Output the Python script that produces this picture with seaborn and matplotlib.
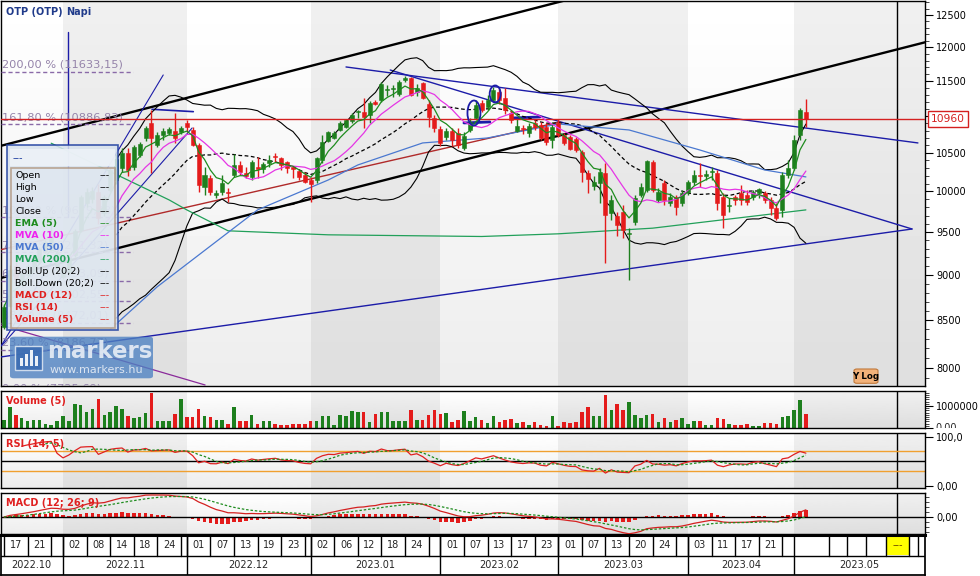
import numpy as np
import pandas as pd
import matplotlib
matplotlib.use("Agg")
import matplotlib.pyplot as plt
import matplotlib.transforms as mtransforms
from matplotlib.patches import Rectangle, FancyBboxPatch, Ellipse
from matplotlib.ticker import FixedLocator, FixedFormatter, NullFormatter
import seaborn as sns

sns.set_theme(style="white")
plt.rcParams['font.family'] = ['DejaVu Sans']

# ---------------- data ----------------
holidays = ["2022-10-31", "2022-11-01", "2022-12-26", "2023-03-15",
            "2023-04-07", "2023-04-10", "2023-05-01"]

opens = [8430, 8650, 9100, 8900, 9000, 9080, 9150, 9280, 9300, 9100,
         8980, 9036, 9230, 9527, 9850, 9900, 9994, 9733, 10019, 10150, 10302, 10500, 10315, 10473, 10700,
         10905, 10606, 10741, 10768, 10795, 10781,
         10905, 10809, 10606, 10057, 10173, 9956, 9994, 9994, 10211, 10341, 10237, 10186, 10315, 10289,
         10368, 10460, 10433, 10381, 10315, 10263, 10211,
         10147, 10147, 10407, 10660, 10700, 10809, 10850, 10932, 11057, 11057, 11016, 11198, 11226, 11370,
         11384, 11312, 11514, 11543, 11341, 11470, 11170, 10974,
         10823, 10714, 10795, 10768, 10566, 10809, 10974, 11184, 11128, 11226, 11341, 11255, 11043, 10800,
         10836, 10768, 10905, 10877, 10850, 10673,
         10905, 10741, 10714, 10687, 10513, 10237, 10070, 10108, 10237, 9733, 9696, 9745, 9479, 9623,
         9956, 10019, 10381, 9894, 10108, 9856, 9931, 9856,
         9994, 10121, 10211, 10198, 10250, 10237, 9931, 9819, 9931, 9981, 9956, 9931, 9981, 9981,
         9894, 9794, 9770, 10211,
         10302, 10741, 11057]
highs = [8670, 9110, 9150, 9050, 9120, 9200, 9320, 9400, 9680, 9250,
         9100, 9240, 9540, 9960, 10050, 10060, 10100, 9960, 10300, 10480, 10560, 10560, 10600, 10650, 10870,
         11085, 10780, 10836, 10850, 11043, 10860,
         10946, 10850, 10630, 10315, 10211, 10019, 10211, 10045, 10487, 10394, 10315, 10407, 10447, 10381,
         10473, 10500, 10447, 10394, 10330, 10280, 10250,
         10186, 10447, 10741, 10800, 10800, 10930, 10960, 11040, 11085, 11255, 11212, 11230, 11480, 11442,
         11442, 11514, 11572, 11557, 11456, 11485, 11226, 11016,
         10864, 10836, 10836, 10836, 10781, 10974, 11226, 11226, 11298, 11413, 11398, 11398, 11085, 10960,
         10877, 10905, 10946, 10919, 10905, 10919,
         10960, 10768, 10741, 10714, 10539, 10276, 10198, 10302, 10368, 9956, 9745, 9831, 9551, 9956,
         10108, 10407, 10407, 10044, 10147, 9981, 9956, 10019,
         10147, 10276, 10368, 10276, 10315, 10276, 9981, 9919, 9956, 10083, 10019, 10019, 10045, 10007,
         9931, 9856, 10250, 10407,
         10741, 11114, 11241]
lows = [8400, 8640, 8900, 8860, 8980, 9050, 9120, 9250, 9280, 9050,
        8950, 9000, 9200, 9500, 9800, 9850, 9600, 9700, 9990, 10100, 10250, 10200, 10280, 10440, 10660,
        10237, 10580, 10673, 10740, 10633, 10760,
        10781, 10590, 9994, 9956, 9956, 9919, 9956, 9869, 10186, 10211, 10173, 10147, 10173, 10237,
        10315, 10381, 10276, 10237, 10173, 10147, 10108,
        9869, 10108, 10368, 10640, 10680, 10790, 10830, 10910, 10974, 10836, 10905, 11150, 11200, 11284,
        11270, 11284, 11485, 11284, 11284, 11241, 10850, 10781,
        10593, 10673, 10593, 10566, 10539, 10781, 10946, 11057, 11085, 11198, 11170, 11030, 10905, 10780,
        10754, 10714, 10809, 10673, 10606, 10566,
        10714, 10606, 10539, 10513, 10121, 9981, 10019, 9856, 9139, 9647, 9455, 9431, 8945, 9587,
        9931, 9994, 9994, 9869, 9831, 9819, 9708, 9819,
        9956, 10083, 10057, 10147, 10147, 9770, 9551, 9745, 9831, 9831, 9831, 9894, 9919, 9856,
        9708, 9647, 9684, 10173,
        10276, 10673, 10850]
closes = [8646, 9060, 8950, 9020, 9100, 9180, 9300, 9380, 9450, 9200,
          9060, 9208, 9510, 9931, 9990, 10010, 9672, 9931, 10276, 10420, 10500, 10276, 10579, 10620, 10836,
          10700, 10741, 10795, 10823, 10700, 10836,
          10850, 10606, 10083, 10211, 9994, 9981, 10108, 9981, 10341, 10250, 10198, 10381, 10289, 10355,
          10407, 10447, 10341, 10302, 10289, 10186, 10121,
          10096, 10433, 10646, 10781, 10768, 10905, 10946, 11016, 11071, 10988, 11184, 11170, 11456, 11384,
          11398, 11485, 11543, 11298, 11398, 11255, 10988, 10836,
          10633, 10795, 10673, 10606, 10727, 10919, 11156, 11085, 11226, 11370, 11226, 11085, 10946, 10870,
          10823, 10864, 10850, 10700, 10646, 10850,
          10741, 10633, 10553, 10539, 10250, 10160, 10120, 10250, 9708, 9894, 9587, 9527, 9491, 9919,
          10057, 10394, 10019, 9994, 9894, 9931, 9807, 9981,
          10121, 10211, 10198, 10224, 10263, 9856, 9708, 9831, 9894, 9894, 9869, 9994, 10032, 9894,
          9794, 9672, 10211, 10302,
          10673, 11085, 10960]
volumes_k = [377, 941, 605, 455, 305, 350, 377, 182, 123, 332,
             559, 332, 1105, 1032, 727, 877, 1332, 605, 714, 1014, 877, 559, 455, 486, 682,
             1605, 305, 305, 332, 650, 1332,
             500, 500, 877, 559, 500, 364, 364, 182, 941, 332, 332, 605, 182, 305,
             305, 182, 150, 123, 182, 182, 182,
             305, 305, 559, 559, 150, 605, 532, 786, 714, 714, 259, 650, 714, 714,
             305, 305, 305, 832, 377, 377, 605, 832,
             650, 695, 259, 377, 786, 332, 500, 377, 214, 532, 273, 350, 423, 227,
             273, 150, 259, 150, 105, 559,
             105, 259, 227, 259, 714, 968, 532, 532, 1514, 805, 1105, 805, 1168, 605,
             455, 605, 650, 259, 441, 259, 350, 441,
             195, 332, 305, 150, 150, 441, 395, 195, 123, 123, 195, 105, 77, 214,
             227, 195, 486, 559,
             805, 1286, 650]

# slow averages need history before the window
mva50_days = [18, 26, 43, 55, 60, 71, 82, 94, 106, 118, 129, 136]
mva50_vals = [8400, 8866, 9770, 10147, 10341, 10633, 10700, 10891, 10809, 10539, 10276, 10186]
mva200_days = [8, 28, 31, 38, 55, 81, 94, 110, 136]
mva200_vals = [10629, 9894, 9770, 9515, 9467, 9447, 9479, 9547, 9770]

fib_pcts = ["200,00", "161,80", "100,00", "78,60", "61,80", "50,00", "38,20", "23,60", "0,00"]
fib_levels = [11633.15, 10886.83, 9679.43, 9261.32, 8933.09, 8702.55, 8472.01, 8186.77, 7725.69]
last_price = 10960

# drawn trend lines: (day index, price) pairs
channel_up = [(-0.6, 10593), (55.3, 11794)]
channel_dn = [(50.2, 9872), (131.6, 11524)]
tri_top = [(58.0, 11705), (155.0, 10633)]
tri_mid = [(65.5, 11660), (154.0, 9537)]
tri_low = [(-0.6, 8112), (154.0, 9537)]
fan_1 = [(-0.6, 8215), (27.0, 11587)]
fan_2 = [(-0.3, 8236), (31.9, 10836)]
peak_line = [(25.1, 11095), (32.1, 11062)]
support_red = [(-0.6, 9290), (94.3, 10919)]
purple_line = [(-0.6, 8447), (34.1, 7830)]
fib_anchor = [(10.9, 9679), (10.9, 12232)]
neck_lines = [[(78.0, 10905), (82.4, 10919)], [(86.3, 10974), (90.9, 10988)]]
shoulder_marks = [(79.7, 11043, 13, 25), (83.3, 11312, 11, 17)]

GREEN = "#1d7f1d"
RED = "#e41b1b"
NAVY = "#1c1ca8"
W, H = 980, 576

days = pd.bdate_range("2022-10-17", "2023-05-04")
days = days[~days.isin(pd.to_datetime(holidays))]
n = len(days)
idx = np.arange(n)

# ---------------- indicators ----------------
cl = pd.Series(closes, dtype=float)
ema5 = cl.ewm(span=5, adjust=False).mean()
mva10 = cl.rolling(10).mean()
mid20 = cl.rolling(20).mean()
sd20 = cl.rolling(20).std(ddof=0)
boll_up, boll_dn = mid20 + 2 * sd20, mid20 - 2 * sd20

delta = cl.diff()
avg_g = delta.clip(lower=0).ewm(alpha=1 / 14, min_periods=3).mean()
avg_l = (-delta).clip(lower=0).ewm(alpha=1 / 14, min_periods=3).mean()
rsi = 100 - 100 / (1 + avg_g / avg_l)
rsi_sig = rsi.rolling(5).mean()

macd = cl.ewm(span=12, adjust=False).mean() - cl.ewm(span=26, adjust=False).mean()
macd_sig = macd.ewm(span=9, adjust=False).mean()
macd_hist = macd - macd_sig

# ---------------- figure layout ----------------
fig = plt.figure(figsize=(W / 100, H / 100), dpi=100)
fig.patch.set_facecolor("white")
PX_L, PX_R = 0.5, 925.0
XLIM = (-0.6, 156.2)


def box(top, bottom):
    return [PX_L / W, 1 - bottom / H, (PX_R - PX_L) / W, (bottom - top) / H]


panels = [(0.5, 386), (391, 428), (433, 488), (493, 534)]
bg = fig.add_axes([0, 0, 1, 1], zorder=-1)
grad = np.linspace(1.0, 0.93, 64).reshape(-1, 1)
for top, bottom in panels:
    bg.imshow(grad, extent=[PX_L, PX_R, bottom, top], cmap="gray", vmin=0, vmax=1,
              aspect="auto", interpolation="bilinear")
bg.set_xlim(0, W)
bg.set_ylim(H, 0)
bg.axis("off")

ax = fig.add_axes(box(*panels[0]))
ax_vol = fig.add_axes(box(*panels[1]))
ax_rsi = fig.add_axes(box(*panels[2]))
ax_macd = fig.add_axes(box(*panels[3]))
ax_date = fig.add_axes([PX_L / W, 1 - 575 / H, (PX_R - PX_L) / W, (575 - 534.5) / H])

month_key = days.strftime("%Y.%m")
month_starts = [i for i in range(n) if i == 0 or month_key[i] != month_key[i - 1]]
month_names = [month_key[i] for i in month_starts]
edges = [XLIM[0]] + month_starts[1:] + [XLIM[1]]

for a in (ax, ax_vol, ax_rsi, ax_macd):
    a.set_facecolor("none")
    for k in range(1, len(edges) - 1, 2):
        a.axvspan(edges[k], edges[k + 1], color="black", alpha=0.06, lw=0, zorder=0)
    a.axvline(151.5, color="black", lw=1, zorder=2)
    for s in a.spines.values():
        s.set_color("black")
        s.set_linewidth(1)
    a.yaxis.tick_right()
    a.tick_params(axis="y", which="major", length=6, width=0.8, labelsize=7, pad=2,
                  right=True, left=False, labelright=True, labelleft=False, colors="black")
    a.tick_params(axis="y", which="minor", length=3, width=0.6, right=True, left=False)
    a.tick_params(axis="x", bottom=False, labelbottom=False)

# ---------------- price panel ----------------
o, h, l, c = (np.array(v, float) for v in (opens, highs, lows, closes))
rising = c >= o
cc = np.where(rising, GREEN, RED)
ax.vlines(idx, l, h, colors=cc, lw=1, zorder=5)
lo, hi = np.minimum(o, c), np.maximum(o, c)
ax.bar(idx, np.maximum(hi - lo, 6), bottom=lo, width=0.68, color=cc, edgecolor=cc, lw=0.4, zorder=6)

ax.plot(idx, boll_up, color="black", lw=0.8, zorder=4)
ax.plot(idx, boll_dn, color="black", lw=0.8, zorder=4)
ax.plot(idx, mid20, color="black", lw=0.9, ls=(0, (3, 2)), zorder=4)
ax.plot(mva200_days, mva200_vals, color="#22a05a", lw=0.9, zorder=4)
ax.plot(mva50_days, mva50_vals, color="#4a78d0", lw=0.9, zorder=4)
ax.plot(idx, mva10, color="#e535e5", lw=0.9, zorder=7)
ax.plot(idx, ema5, color="#1e8c1e", lw=0.9, zorder=7)

ax.axline(*channel_up, color="black", lw=1.7, zorder=3)
ax.axline(*channel_dn, color="black", lw=1.7, zorder=3)
for seg, lw in [(tri_top, 1.0), (tri_mid, 1.0), (tri_low, 1.0), (fan_1, 0.8),
                (fan_2, 0.8), (peak_line, 1.2), (fib_anchor, 1.0)] + [(s, 2.0) for s in neck_lines]:
    xs, ys = zip(*seg)
    ax.plot(xs, ys, color=NAVY, lw=lw, zorder=3)
xs, ys = zip(*support_red)
ax.plot(xs, ys, color="#b02a2a", lw=1.0, zorder=3)
xs, ys = zip(*purple_line)
ax.plot(xs, ys, color="#8a2a9a", lw=0.9, zorder=3)
for cx, cy, wpx, hpx in shoulder_marks:
    tr = fig.dpi_scale_trans + mtransforms.ScaledTranslation(cx, cy, ax.transData)
    ax.add_patch(Ellipse((0, 0), wpx / 100, hpx / 100, transform=tr, fill=False,
                         ec=NAVY, lw=1.3, zorder=8))

ax.axhline(last_price, color="#d42020", lw=1, zorder=6)

ytr = ax.get_yaxis_transform()
txt_tr = mtransforms.offset_copy(ytr, fig=fig, y=1.5, units="points")
for pct, lev in zip(fib_pcts, fib_levels):
    ax.plot([0, 0.1433], [lev, lev], transform=ytr, color="#8a6aa8", lw=1, ls=(0, (3, 2)), zorder=3)
    level_txt = f"{lev:.2f}".replace(".", ",")
    ax.text(0.0016, lev, f"{pct} % ({level_txt})", transform=txt_tr, va="bottom", ha="left",
            fontsize=8.2, color="#9584aa", clip_on=True, zorder=3)

ax.set_yscale("log")
ax.set_xlim(*XLIM)
ax.set_ylim(7820, 12731)
price_ticks = [8000, 8500, 9000, 9500, 10000, 10500, 11000, 11500, 12000, 12500]
ax.yaxis.set_major_locator(FixedLocator(price_ticks))
ax.yaxis.set_major_formatter(FixedFormatter([str(t) for t in price_ticks]))
ax.yaxis.set_minor_locator(FixedLocator(list(range(7900, 12800, 100))))
ax.yaxis.set_minor_formatter(NullFormatter())
ax.text(1 + 6 / 924.5, last_price, str(last_price), transform=ytr, ha="left", va="center",
        fontsize=7.7, color="#d42020", clip_on=False, zorder=20,
        bbox=dict(boxstyle="square,pad=0.3", fc="white", ec="#d42020", lw=1))

# ---------------- volume ----------------
vol_df = pd.DataFrame({"day": idx, "volume": np.array(volumes_k) * 1000,
                       "move": np.where(rising, "up", "down")})
sns.barplot(data=vol_df, x="day", y="volume", hue="move", palette={"up": GREEN, "down": RED},
            native_scale=True, width=0.6, dodge=False, legend=False, saturation=1,
            linewidth=0, errorbar=None, ax=ax_vol)
ax_vol.set_xlim(*XLIM)
ax_vol.set_ylim(0, 1.68e6)
ax_vol.set_xlabel("")
ax_vol.set_ylabel("")
ax_vol.yaxis.set_major_locator(FixedLocator([0, 1e6]))
ax_vol.yaxis.set_major_formatter(FixedFormatter(["", "1000000"]))
ax_vol.yaxis.set_minor_locator(FixedLocator(np.arange(1e5, 1.7e6, 1e5)))
ax_vol.yaxis.set_minor_formatter(NullFormatter())
# the zero label is cut by the panel edge in the original
zero_lab = fig.text(935 / W, 1 - 428 / H, "0,00", fontsize=7, va="center", ha="left")
zero_lab.set_clip_box(mtransforms.Bbox.from_extents(925, H - 428, 980, H - 391))
zero_lab.set_clip_on(True)

# ---------------- RSI ----------------
ax_rsi.axhline(70, color="#f0a030", lw=1, zorder=2)
ax_rsi.axhline(30, color="#f0a030", lw=1, zorder=2)
ax_rsi.axhline(50, color="black", lw=1, zorder=2)
ax_rsi.plot(idx, rsi, color="#e02020", lw=0.9, zorder=4)
ax_rsi.plot(idx, rsi_sig, color="#1e8c1e", lw=0.9, ls=(0, (2, 1.5)), zorder=4)
ax_rsi.set_xlim(*XLIM)
ax_rsi.set_ylim(-4.1, 107.5)
ax_rsi.yaxis.set_major_locator(FixedLocator([0, 100]))
ax_rsi.yaxis.set_major_formatter(FixedFormatter(["0,00", "100,0"]))

# ---------------- MACD ----------------
px = max(macd.max(), macd_sig.max()) / 22.0
macd_df = pd.DataFrame({"day": idx, "hist": macd_hist})
sns.barplot(data=macd_df, x="day", y="hist", color=RED, native_scale=True, width=0.6,
            saturation=1, linewidth=0, errorbar=None, ax=ax_macd)
ax_macd.axhline(0, color="black", lw=1, zorder=3)
ax_macd.plot(idx, macd, color="#d42020", lw=0.9, zorder=4)
ax_macd.plot(idx, macd_sig, color="#1e8c1e", lw=0.9, ls=(0, (2, 1.5)), zorder=4)
ax_macd.set_xlim(*XLIM)
ax_macd.set_ylim(-17 * px, 24 * px)
ax_macd.set_xlabel("")
ax_macd.set_ylabel("")
ax_macd.yaxis.set_major_locator(FixedLocator([0]))
ax_macd.yaxis.set_major_formatter(FixedFormatter(["0,00"]))
ax_macd.yaxis.set_minor_locator(FixedLocator([k * px for k in (-15, -10, -5, 5, 10, 15, 20)]))
ax_macd.yaxis.set_minor_formatter(NullFormatter())

# ---------------- date strip ----------------
ax_date.set_xlim(*XLIM)
ax_date.set_ylim(0, 40)
ax_date.set_xticks([])
ax_date.set_yticks([])
for s in ax_date.spines.values():
    s.set_color("black")
ax_date.spines["top"].set_linewidth(2.2)
ax_date.axhline(19, color="black", lw=1)
bounds = month_starts + [XLIM[1]]
for k, name in enumerate(month_names):
    left = XLIM[0] if k == 0 else month_starts[k]
    if k > 0:
        ax_date.plot([month_starts[k]] * 2, [0, 40], color="black", lw=1)
    ax_date.text((left + bounds[k + 1]) / 2, 9.5, name, ha="center", va="center", fontsize=7)
    g = [i for i in range(n) if month_key[i] == name]
    if name == month_names[-1]:
        continue
    for j in range(0, len(g), 4):
        start = g[j]
        end = g[j + 4] if j + 4 < len(g) else bounds[k + 1]
        ax_date.plot([start, start], [19, 40], color="black", lw=1)
        if j + 4 <= len(g):
            ax_date.text((start + end) / 2, 29.5, days[start].strftime("%d"), ha="center",
                         va="center", fontsize=7)
may_cells = [140, 143, 146.2, 149.6, 153.5, 155]
for e in may_cells:
    ax_date.plot([e, e], [19, 40], color="black", lw=1)
ax_date.add_patch(Rectangle((149.6, 19.5), 3.9, 20, fc="#ffff00", ec="none", zorder=1))
ax_date.text(151.55, 29.5, "---", ha="center", va="center", fontsize=7, color="#6a4a00")


# ---------------- overlays (figure pixels) ----------------
def fx(px_):
    return px_ / W


def fy(py_):
    return 1 - py_ / H


def frect(x0, y0, x1, y1, **kw):
    fig.add_artist(Rectangle((fx(x0), fy(y1)), (x1 - x0) / W, (y1 - y0) / H,
                             transform=fig.transFigure, **kw))


fig.text(fx(6), fy(12), "OTP (OTP)", fontsize=7, fontweight="bold", color="#1f3a8a", va="center")
fig.text(fx(66), fy(12), "Napi", fontsize=7, fontweight="bold", color="#1f3a8a", va="center")
fig.text(fx(6), fy(401.5), "Volume (5)", fontsize=7, fontweight="bold", color="#e02020", va="center")
fig.text(fx(6), fy(444), "RSI (14; 5)", fontsize=7, fontweight="bold", color="#e02020", va="center")
fig.text(fx(6), fy(503.5), "MACD (12; 26; 9)", fontsize=7, fontweight="bold", color="#e02020",
         va="center")

# legend panel
frect(7.3, 145, 118.3, 330, fc="#d8e2ee", alpha=0.86, ec="#1f3fa0", lw=1.2)
frect(10, 149, 115, 166, fc="#eef3f8", alpha=0.85, ec="none")
fig.text(fx(13), fy(158), "---", fontsize=7, color="#1f3fa0", va="center")
frect(10.7, 168.3, 115, 328.3, fc="#e2e9f1", alpha=0.6, ec="#a07855", lw=1.2)
legend_rows = [("Open", "black", "normal"), ("High", "black", "normal"), ("Low", "black", "normal"),
               ("Close", "black", "normal"), ("EMA (5)", "#1e8c1e", "bold"),
               ("MVA (10)", "#ee22ee", "bold"), ("MVA (50)", "#4a78d0", "bold"),
               ("MVA (200)", "#22a05a", "bold"), ("Boll.Up (20;2)", "black", "normal"),
               ("Boll.Down (20;2)", "black", "normal"), ("MACD (12)", "#e02020", "bold"),
               ("RSI (14)", "#e02020", "bold"), ("Volume (5)", "#e02020", "bold")]
for r, (lab, col, wt) in enumerate(legend_rows):
    yy = 175.7 + 11.97 * r
    fig.text(fx(15), fy(yy), lab, fontsize=6.8, color=col, fontweight=wt, va="center")
    fig.text(fx(110), fy(yy), "---", fontsize=6.8, color=col, va="center", ha="right")

# site logo
fig.add_artist(FancyBboxPatch((fx(10), fy(378.3)), (153 - 10) / W, (378.3 - 336.7) / H,
                              boxstyle="round,pad=0,rounding_size=0.004", transform=fig.transFigure,
                              fc="#4f82c2", ec="none", alpha=0.8))
frect(15, 346, 42, 370, fc="#3b6cb2", ec="#dce6f2", lw=1, alpha=0.9)
for bx, bh in zip([20, 25, 30, 35], [8, 12, 16, 10]):
    frect(bx, 366 - bh, bx + 2.5, 366, fc="white", ec="none", alpha=0.9)
fig.text(fx(47), fy(352), "markers", fontsize=16.5, fontweight="bold", color="#e8eef6",
         va="center", alpha=0.9)
fig.text(fx(50), fy(370), "www.markers.hu", fontsize=8, color="#e8eef6", va="center", alpha=0.9)

# Y Log button
fig.add_artist(FancyBboxPatch((fx(854), fy(383.3)), 24 / W, 14.3 / H,
                              boxstyle="round,pad=0,rounding_size=0.003", transform=fig.transFigure,
                              fc="#f2b27a", ec="#c0783a", lw=0.8))
fig.text(fx(866), fy(376.5), "Y Log", fontsize=6.3, fontweight="bold", color="black",
         ha="center", va="center")

fig.savefig("out.png", dpi=100, facecolor="white")
